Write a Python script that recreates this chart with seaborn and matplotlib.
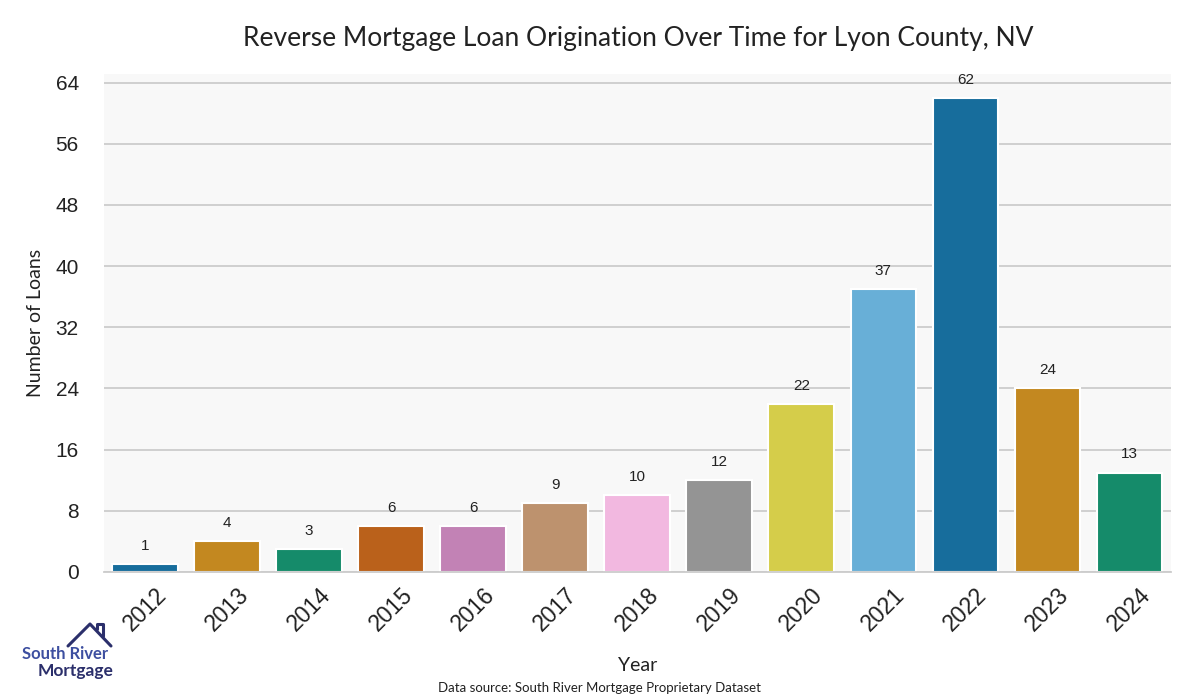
import matplotlib
matplotlib.use("Agg")
import matplotlib.pyplot as plt
from matplotlib.lines import Line2D
import seaborn as sns
import pandas as pd

years = ["2012", "2013", "2014", "2015", "2016", "2017", "2018", "2019",
         "2020", "2021", "2022", "2023", "2024"]
loans = [1, 4, 3, 6, 6, 9, 10, 12, 22, 37, 62, 24, 13]
yticks = [0, 8, 16, 24, 32, 40, 48, 56, 64]

title = "Reverse Mortgage Loan Origination Over Time for Lyon County, NV"
source = "Data source: South River Mortgage Proprietary Dataset"

sns.set_theme(style="whitegrid")
plt.rcParams["font.family"] = ["Liberation Sans", "DejaVu Sans"]

df = pd.DataFrame({"Year": years, "Loans": loans})
palette = sns.color_palette("colorblind", 10)
colors = [palette[i % 10] for i in range(len(years))]

fig = plt.figure(figsize=(12, 7), dpi=100)
ax = fig.add_axes([0.0865, 0.183, 0.889, 0.711])
ax.set_facecolor("#f8f8f8")
sns.barplot(data=df, x="Year", y="Loans", hue="Year", palette=colors,
            legend=False, ax=ax, edgecolor="white", linewidth=1.5, width=0.8)

for c in ax.containers:
    ax.bar_label(c, padding=8, fontsize=11, color="#222222")

ax.set_ylim(0, 65.1)
ax.set_yticks(yticks)
ax.tick_params(axis="y", labelsize=15, colors="#222222", length=0, pad=18)
ax.tick_params(axis="x", labelsize=16.5, colors="#222222", length=0, pad=8)
for lbl in ax.get_xticklabels():
    lbl.set_rotation(45)
    lbl.set_ha("center")
ax.grid(axis="y", color="#cccccc", linewidth=1.3)
ax.grid(axis="x", visible=False)
for s in ["top", "right", "left"]:
    ax.spines[s].set_visible(False)
ax.spines["bottom"].set_color("#cccccc")
ax.spines["bottom"].set_linewidth(1.3)

ax.set_xlabel("Year", fontsize=14, family=["Lato", "DejaVu Sans"], color="#222222", labelpad=16)
ax.set_ylabel("Number of Loans", fontsize=14, family=["Lato", "DejaVu Sans"], color="#222222", labelpad=8)
fig.text(0.532, 0.945, title, ha="center", va="center", fontsize=19,
         family=["Lato", "DejaVu Sans"], color="#222222")
fig.text(0.5, 0.017, source, ha="center", va="center", fontsize=9.5,
         family=["Lato", "DejaVu Sans"], color="#222222")

# logo
navy = "#2b2f6b"
fig.text(0.0185, 0.066, "South River", fontsize=12, fontweight="bold",
         color="#3d4fa0", family=["Lato", "DejaVu Sans"], va="center")
fig.text(0.031, 0.042, "Mortgage", fontsize=12.5, fontweight="bold",
         color=navy, family=["Lato", "DejaVu Sans"], va="center")
fig.add_artist(Line2D([68/1200, 90/1200, 111/1200], [1-646/700, 1-624/700, 1-646/700],
                      color=navy, linewidth=2.2, transform=fig.transFigure))
fig.add_artist(Line2D([97/1200, 97/1200, 103/1200, 103/1200], [1-629/700, 1-624/700, 1-624/700, 1-636/700],
                      color=navy, linewidth=2.2, transform=fig.transFigure))

fig.savefig("out.png", dpi=100)
